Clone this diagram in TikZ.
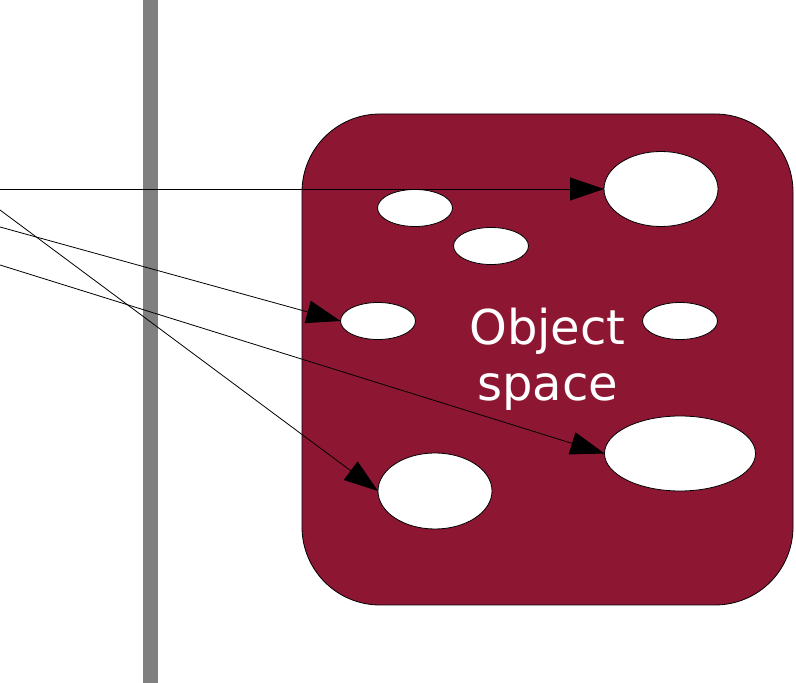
\documentclass[tikz,border=0pt]{standalone}
\usepackage{fontspec}
\setmainfont{DejaVu Sans}
\usetikzlibrary{arrows.meta,shapes.geometric}
\definecolor{objred}{RGB}{141,22,51}
\definecolor{bargray}{RGB}{128,128,128}
\tikzset{
  hole/.style={ellipse, draw=black, fill=white, inner sep=0pt, outer sep=0pt, line width=0.8pt},
  ray/.style={draw=black, line width=0.8pt, -{Triangle[length=34pt,width=23pt]}},
  objbox/.style={draw=black, fill=objred, line width=0.8pt, rounded corners=78pt,
    minimum width=491pt, minimum height=491pt, inner sep=0pt, outer sep=0pt,
    text=white, align=center, font=\fontsize{48}{56}\selectfont},
  barstyle/.style={fill=bargray, draw=none}
}
\begin{document}
\begin{tikzpicture}[x=1pt,y=1pt]
\useasboundingbox (0,0) rectangle (796,683);
% screen bar
\fill[barstyle] (143,0) rectangle (158,683);
% object space
\node[objbox] (space) at (547.5,323.5) {Object\\space};
% objects
\node[hole, minimum width=114pt, minimum height=75pt] (e1) at (661,494) {};
\node[hole, minimum width=75pt, minimum height=37pt] (e2) at (415,475) {};
\node[hole, minimum width=75pt, minimum height=37pt] (e3) at (491,437) {};
\node[hole, minimum width=75pt, minimum height=37pt] (e4) at (378,362) {};
\node[hole, minimum width=75pt, minimum height=37pt] (e5) at (680,362) {};
\node[hole, minimum width=151pt, minimum height=75pt] (e6) at (680,229.5) {};
\node[hole, minimum width=114pt, minimum height=76pt] (e7) at (435,192) {};
% ray origins
\coordinate (a0) at (0,494);
\coordinate (b0) at (0,473);
\coordinate (c0) at (0,456);
\coordinate (d0) at (0,418);
% rays
\draw[ray] (a0) -- (e1.west);
\draw[ray] (b0) -- (e7.west);
\draw[ray] (c0) -- (e4.west);
\draw[ray] (d0) -- (e6.west);
\end{tikzpicture}
\end{document}
